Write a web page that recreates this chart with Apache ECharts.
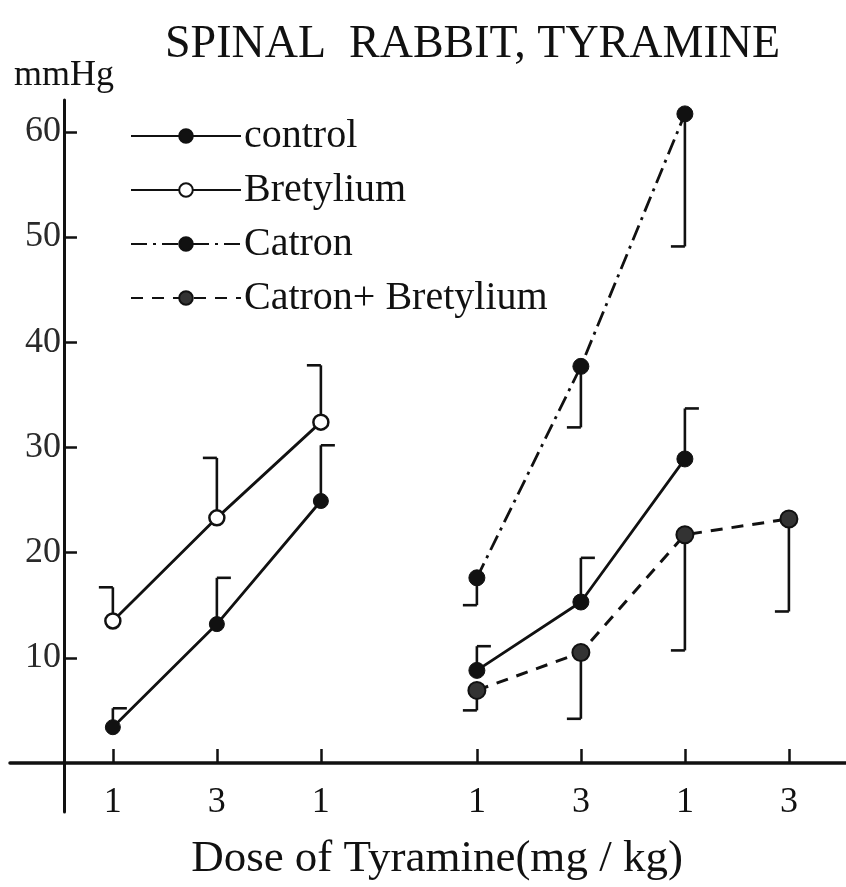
<!DOCTYPE html>
<html>
<head>
<meta charset="utf-8">
<script src="https://cdn.jsdelivr.net/npm/echarts@6/dist/echarts.min.js"></script>
<style>
  html, body { margin: 0; padding: 0; background: #fff; }
  #chart { width: 846px; height: 887px; }
</style>
</head>
<body>
<div id="chart"></div>
<script>
// ---- data ----
const titleText = 'SPINAL  RABBIT, TYRAMINE';
const yAxisName = 'mmHg';
const xAxisName = 'Dose of Tyramine(mg / kg)';
const doseLabelsLeft = ['1', '3', '1'];
const doseLabelsRight = ['1', '3', '1', '3'];
const yTicks = [10, 20, 30, 40, 50, 60];

const controlLeft = [3.4, 13.2, 24.9];
const controlLeftSE = [1.8, 4.4, 5.3];
const bretylium = [13.5, 23.3, 32.4];
const bretyliumSE = [3.2, 5.7, 5.4];
const controlRight = [8.8, 15.3, 28.9];
const controlRightSE = [2.3, 4.2, 4.8];
const catron = [17.6, 37.7, 61.7];
const catronSE = [2.6, 5.8, 12.6];
const catronBret = [6.9, 10.5, 21.7, 23.2];
const catronBretSE = [1.9, 6.3, 11.0, 8.8];

// ---- layout ----
const LEFT_OFFSET = -0.53;   // left group position offset on x scale
const RIGHT_OFFSET = 2.97;   // right group position offset on x scale
const FONT = '"Liberation Serif", "DejaVu Serif", serif';
const INK = '#111';

const posL = doseLabelsLeft.map((_, i) => i + 1 + LEFT_OFFSET);
const posR = doseLabelsRight.map((_, i) => i + 1 + RIGHT_OFFSET);
const tickPos = posL.concat(posR);
const tickLab = doseLabelsLeft.concat(doseLabelsRight);

function pts(pos, vals) { return vals.map((v, i) => [pos[i], v]); }
function errPts(pos, vals, se) { return vals.map((v, i) => [pos[i], v, se[i]]); }

function errSeries(data, dir, side) {
  return {
    type: 'custom',
    silent: true,
    z: 1,
    data: data,
    renderItem: function (params, api) {
      const x = api.value(0), y = api.value(1), e = api.value(2);
      const p0 = api.coord([x, y]);
      const p1 = api.coord([x, y + dir * e]);
      const st = { stroke: INK, lineWidth: 2.6 };
      return {
        type: 'group',
        children: [
          { type: 'line', shape: { x1: p0[0], y1: p0[1], x2: p1[0], y2: p1[1] }, style: st },
          { type: 'line', shape: { x1: p1[0], y1: p1[1], x2: p1[0] + side * 14, y2: p1[1] }, style: st }
        ]
      };
    }
  };
}

const filled = { color: INK, borderColor: INK, borderWidth: 1 };
const open = { color: '#fff', borderColor: INK, borderWidth: 2.5 };

const option = {
  backgroundColor: '#fff',
  animation: false,
  title: {
    text: titleText,
    left: 160, top: 17,
    textStyle: { fontFamily: FONT, fontSize: 46, fontWeight: 'normal', color: INK }
  },
  legend: {
    orient: 'vertical',
    left: 125, top: 108,
    itemWidth: 110, itemHeight: 17, itemGap: 8,
    data: ['control', 'Bretylium', 'Catron', 'Catron+ Bretylium'],
    textStyle: { fontFamily: FONT, fontSize: 40, color: INK, lineHeight: 46, padding: [0, 0, 0, -2] }
  },
  grid: { left: 10, right: 0, top: 100, bottom: 75, containLabel: false, outerBoundsMode: 'none' },
  xAxis: {
    type: 'value',
    min: -0.519, max: 7.519,
    splitLine: { show: false },
    axisLine: { onZero: true, lineStyle: { color: INK, width: 3.5 } },
    axisTick: { show: true, inside: true, length: 14, customValues: tickPos, lineStyle: { color: INK, width: 2.5 } },
    axisLabel: {
      customValues: tickPos,
      margin: -27,
      fontFamily: FONT, fontSize: 36, color: INK,
      formatter: function (v) {
        let best = 0, d = Infinity;
        tickPos.forEach((p, i) => { if (Math.abs(p - v) < d) { d = Math.abs(p - v); best = i; } });
        return tickLab[best];
      }
    },
    name: xAxisName,
    nameLocation: 'middle',
    nameGap: 25,
    nameTextStyle: { fontFamily: FONT, fontSize: 45, color: INK, padding: [0, 0, 0, 18] }
  },
  yAxis: {
    type: 'value',
    min: -4.66, max: 63.02,
    splitLine: { show: false },
    axisLine: { onZero: true, lineStyle: { color: INK, width: 3 } },
    axisTick: { show: true, inside: true, length: 13, customValues: yTicks, lineStyle: { color: INK, width: 2.5 } },
    axisLabel: { customValues: yTicks, margin: -51, fontFamily: FONT, fontSize: 36, color: '#2a2a2a' },
    name: yAxisName,
    nameLocation: 'end',
    nameGap: 6,
    nameTextStyle: { fontFamily: FONT, fontSize: 36, color: INK }
  },
  series: [
    errSeries(errPts(posL, bretylium, bretyliumSE), 1, -1),
    errSeries(errPts(posL, controlLeft, controlLeftSE), 1, 1),
    errSeries(errPts(posR, controlRight, controlRightSE), 1, 1),
    errSeries(errPts(posR, catron, catronSE), -1, -1),
    errSeries(errPts(posR, catronBret, catronBretSE), -1, -1),
    {
      name: 'control', type: 'line', z: 3,
      data: pts(posL, controlLeft),
      symbol: 'circle', symbolSize: 15,
      lineStyle: { color: INK, width: 2.8, type: 'solid' },
      itemStyle: filled
    },
    {
      name: 'Bretylium', type: 'line', z: 3,
      data: pts(posL, bretylium),
      symbol: 'circle', symbolSize: 15,
      lineStyle: { color: INK, width: 2.8, type: 'solid' },
      itemStyle: open
    },
    {
      name: 'control', type: 'line', z: 3,
      data: pts(posR, controlRight),
      symbol: 'circle', symbolSize: 16,
      lineStyle: { color: INK, width: 2.8, type: 'solid' },
      itemStyle: filled
    },
    {
      name: 'Catron', type: 'line', z: 3,
      data: pts(posR, catron),
      symbol: 'circle', symbolSize: 16,
      lineStyle: { color: INK, width: 2.8, type: [16, 6, 3, 6] },
      itemStyle: filled
    },
    {
      name: 'Catron+ Bretylium', type: 'line', z: 3,
      data: pts(posR, catronBret),
      symbol: 'circle', symbolSize: 17,
      lineStyle: { color: INK, width: 3, type: [12, 9] },
      itemStyle: { color: '#333', borderColor: INK, borderWidth: 2 }
    }
  ]
};

const chart = echarts.init(document.getElementById('chart'), null, { renderer: 'canvas' });
chart.setOption(option);
</script>
</body>
</html>
